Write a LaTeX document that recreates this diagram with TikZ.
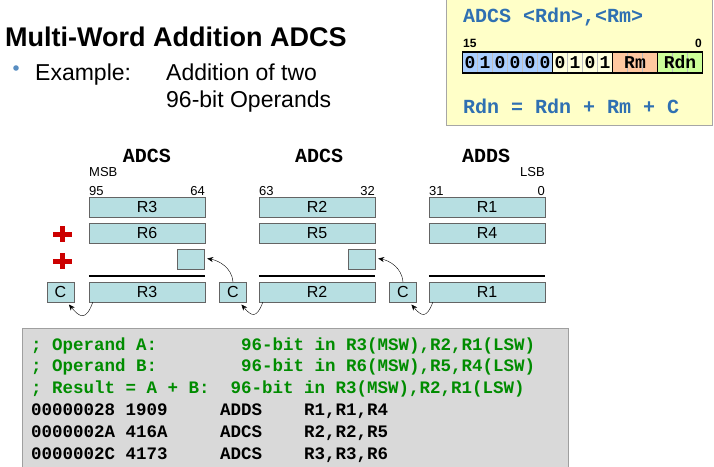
\documentclass[tikz,border=0pt]{standalone}
\usepackage{fontspec}
\setmainfont{Liberation Sans}
\setmonofont{Liberation Mono}
\usetikzlibrary{arrows.meta}

\definecolor{regfill}{RGB}{183,223,226}
\definecolor{regline}{RGB}{100,100,100}
\definecolor{insnfill}{RGB}{255,255,200}
\definecolor{insnblue}{RGB}{47,112,178}
\definecolor{codefill}{RGB}{217,217,217}
\definecolor{codegreen}{RGB}{0,140,0}
\definecolor{plusred}{RGB}{204,0,0}
\definecolor{opfill}{RGB}{170,206,255}
\definecolor{bitfill}{RGB}{255,255,221}
\definecolor{rmfill}{RGB}{255,200,160}
\definecolor{rdnfill}{RGB}{204,255,153}

\newcommand{\fsize}[1]{\fontsize{#1}{#1}\selectfont}

\tikzset{
  reg/.style={draw=regline, fill=regfill, minimum width=116pt, minimum height=20pt, inner sep=0pt, font=\fsize{16}},
  cbit/.style={reg, minimum width=27pt},
  carry/.style={-{Stealth[length=6pt,width=5pt]}, thin, shorten >=3pt, looseness=2},
  sumline/.style={line width=1.6pt},
  hdr/.style={font=\ttfamily\bfseries\fsize{20}},
  bitno/.style={font=\fsize{13}, inner sep=0pt},
  plussign/.style={plusred, line width=5pt},
  codeline/.style={anchor=base west, inner sep=0pt, font=\ttfamily\bfseries\fsize{17.5}\frenchspacing},
  insn/.style={anchor=base west, inner sep=0pt, text=insnblue, font=\ttfamily\bfseries\fsize{20}\frenchspacing},
  bitdigit/.style={inner sep=0pt, font=\ttfamily\bfseries\fsize{18}},
}

\begin{document}
\begin{tikzpicture}[x=1pt,y=1pt]
  \useasboundingbox (0,0) rectangle (714,-466);

  % heading
  \node[anchor=base west, inner sep=0pt, font=\bfseries\fsize{27}] (title) at (5,-46) {Multi-Word Addition ADCS};
  \fill[insnblue!80] (16,-68) circle (2.8);
  \node[anchor=base west, inner sep=0pt, font=\fsize{23}] (ex) at (35,-80) {Example:};
  \node[anchor=base west, inner sep=0pt, font=\fsize{23}] (ex1) at (166,-80) {Addition of two};
  \node[anchor=base west, inner sep=0pt, font=\fsize{23}] (ex2) at (166,-107.5) {96-bit Operands};

  % instruction encoding
  \draw[gray!70, fill=insnfill] (446,5) rectangle (712.5,-125);
  \node[insn] (syn) at (463,-22) {ADCS <Rdn>,<Rm>};
  \node[anchor=base west, inner sep=0pt, font=\bfseries\fsize{12}] (b15) at (463,-47) {15};
  \node[anchor=base east, inner sep=0pt, font=\bfseries\fsize{12}] (b0) at (702,-47) {0};
  \fill[opfill] (462.5,-52) rectangle (552.5,-73);
  \fill[bitfill] (552.5,-52) rectangle (612.5,-73);
  \fill[rmfill] (612.5,-52) rectangle (657.5,-73);
  \fill[rdnfill] (657.5,-52) rectangle (702.5,-73);
  \foreach \i in {1,2,3,4,5,7,8,9,11,12,14,15}
    \draw[gray!50] (462.5+15*\i,-52) -- ++(0,-21);
  \draw[line width=1.3pt] (462.5,-52) rectangle (702.5,-73)
    (552.5,-52) -- (552.5,-73) (612.5,-52) -- (612.5,-73) (657.5,-52) -- (657.5,-73);
  \foreach \b [count=\i from 0] in {0,1,0,0,0,0,0,1,0,1}
    \node[bitdigit] at (470+15*\i,-62.5) {\b};
  \node[bitdigit] (rm) at (635,-62.5) {Rm};
  \node[bitdigit] (rdn) at (680,-62.5) {Rdn};
  \node[insn] (sem) at (463,-113) {Rdn = Rdn + Rm + C};

  % column headers
  \node[hdr] (h1) at (147,-156) {ADCS};
  \node[hdr] (h2) at (319,-156) {ADCS};
  \node[hdr] (h3) at (486,-156) {ADDS};
  \node[bitno, anchor=base west] (msb) at (89,-176) {MSB};
  \node[bitno, anchor=base east] (lsb) at (545,-176) {LSB};
  \node[bitno, anchor=base west] (n95) at (89,-195) {95};
  \node[bitno, anchor=base east] (n64) at (205,-195) {64};
  \node[bitno, anchor=base west] (n63) at (259,-195) {63};
  \node[bitno, anchor=base east] (n32) at (375,-195) {32};
  \node[bitno, anchor=base west] (n31) at (429,-195) {31};
  \node[bitno, anchor=base east] (n0) at (545,-195) {0};

  % registers
  \node[reg] (a1) at (147,-207) {R3};
  \node[reg] (b1) at (147,-233) {R6};
  \node[cbit] (k1) at (190.5,-259) {};
  \node[reg] (s1) at (147,-292) {R3};
  \node[cbit] (c1) at (60.5,-292) {C};

  \node[reg] (a2) at (317,-207) {R2};
  \node[reg] (b2) at (317,-233) {R5};
  \node[cbit] (k2) at (361.5,-259) {};
  \node[reg] (s2) at (317,-292) {R2};
  \node[cbit] (c2) at (233,-292) {C};

  \node[reg] (a3) at (487,-207) {R1};
  \node[reg] (b3) at (487,-233) {R4};
  \node[reg] (s3) at (487,-292) {R1};
  \node[cbit] (c3) at (403,-292) {C};

  \draw[sumline] ([yshift=6pt]s1.north west) -- ([yshift=6pt]s1.north east);
  \draw[sumline] ([yshift=6pt]s2.north west) -- ([yshift=6pt]s2.north east);
  \draw[sumline] ([yshift=6pt]s3.north west) -- ([yshift=6pt]s3.north east);

  \draw[plussign] (53,-234) -- (72,-234) (62.5,-226) -- (62.5,-242);
  \draw[plussign] (53,-261) -- (72,-261) (62.5,-253) -- (62.5,-269);

  % carries
  \draw[carry] ([xshift=4pt]s1.south west) to[out=-110,in=-50] ([xshift=6.5pt]c1.south);
  \draw[carry] ([xshift=4pt]s2.south west) to[out=-110,in=-50] ([xshift=6.5pt]c2.south);
  \draw[carry] ([xshift=4pt]s3.south west) to[out=-110,in=-50] ([xshift=6.5pt]c3.south);
  \draw[carry, looseness=1] (c2.north) to[out=95,in=-10] ([yshift=1pt]k1.east);
  \draw[carry, looseness=1] (c3.north) to[out=95,in=-10] ([yshift=1pt]k2.east);

  % program
  \draw[gray!75, fill=codefill] (22,-328) rectangle (568,-480);
  \node[codeline, text=codegreen] (l1) at (31,-350) {; Operand A:~~~~~~~~96-bit in R3(MSW),R2,R1(LSW)};
  \node[codeline, text=codegreen] (l2) at (31,-371.5) {; Operand B:~~~~~~~~96-bit in R6(MSW),R5,R4(LSW)};
  \node[codeline, text=codegreen] (l3) at (31,-393) {; Result = A + B:~~96-bit in R3(MSW),R2,R1(LSW)};
  \node[codeline] (l4) at (31,-415) {00000028 1909~~~~~ADDS~~~~R1,R1,R4};
  \node[codeline] (l5) at (31,-437) {0000002A 416A~~~~~ADCS~~~~R2,R2,R5};
  \node[codeline] (l6) at (31,-459.5) {0000002C 4173~~~~~ADCS~~~~R3,R3,R6};
\end{tikzpicture}
\end{document}
